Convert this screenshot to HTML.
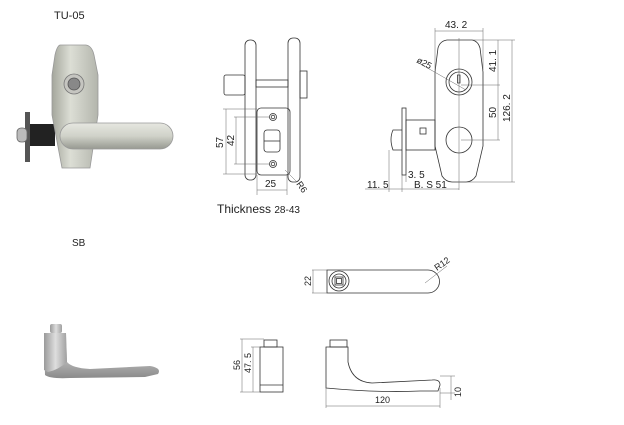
<!DOCTYPE html>
<html><head><meta charset="utf-8"><style>
html,body{margin:0;padding:0;background:#fff;}
svg{display:block;}
text{font-family:"Liberation Sans",sans-serif;fill:#222;}
</style></head><body>
<svg width="624" height="425" viewBox="0 0 624 425" xmlns="http://www.w3.org/2000/svg">
<defs>
<linearGradient id="pl" x1="0" x2="1"><stop offset="0" stop-color="#a4a69c"/><stop offset=".4" stop-color="#dcded5"/><stop offset="1" stop-color="#b3b5ac"/></linearGradient>
<linearGradient id="hd" x1="0" y1="0" x2="0" y2="1"><stop offset="0" stop-color="#e6e7e0"/><stop offset=".5" stop-color="#d0d2c9"/><stop offset="1" stop-color="#979991"/></linearGradient>
<linearGradient id="sb" x1="0" y1="0" x2="0" y2="1"><stop offset="0" stop-color="#dcdcdc"/><stop offset=".6" stop-color="#b5b5b5"/><stop offset="1" stop-color="#8a8a8a"/></linearGradient>
<linearGradient id="sbv" x1="0" x2="1"><stop offset="0" stop-color="#9a9a9a"/><stop offset=".5" stop-color="#dedede"/><stop offset="1" stop-color="#a0a0a0"/></linearGradient>
</defs>
<g fill="none" stroke="#333" stroke-width="0.8">
<text x="54" y="19" font-size="11" stroke="none">TU-05</text>
<rect x="25" y="112" width="5" height="50" fill="#555" stroke="none"/>
<rect x="30" y="124" width="25" height="22" fill="#222" stroke="none"/>
<rect x="17" y="128" width="10" height="14" rx="4" fill="#bbb" stroke="#666"/>
<path d="M60 45 L86 45 Q92 46 94 55 L98 75 L98 115 L90 168 L62 168 L52 115 L52 75 L55 55 Q57 46 60 45Z" fill="url(#pl)" stroke="#999"/>
<circle cx="74" cy="84" r="10" fill="#c5c5c0" stroke="#777"/>
<circle cx="74" cy="84" r="6" fill="#888" stroke="#555"/>
<rect x="60" y="123" width="113" height="26" rx="13" fill="url(#hd)" stroke="#999"/>
<rect x="245" y="40" width="11" height="140" rx="5"/>
<rect x="288" y="38" width="12" height="144" rx="5"/>
<rect x="224" y="75" width="21" height="20" rx="2"/>
<rect x="300" y="71" width="7" height="27"/>
<rect x="256" y="80" width="32" height="7"/>
<rect x="257" y="108" width="33" height="67" rx="4"/>
<circle cx="273" cy="117" r="3.5"/><circle cx="273" cy="117" r="1.8"/>
<circle cx="273" cy="164" r="3.5"/><circle cx="273" cy="164" r="1.8"/>
<rect x="264" y="130" width="16" height="22" rx="3"/>
<line x1="264" y1="141" x2="280" y2="141"/>
<g stroke="#666" stroke-width="0.5">
<line x1="223" y1="109" x2="257" y2="109"/><line x1="223" y1="174" x2="257" y2="174"/>
<line x1="226" y1="109" x2="226" y2="174"/>
<line x1="234" y1="117" x2="270" y2="117"/><line x1="234" y1="164" x2="270" y2="164"/>
<line x1="236" y1="117" x2="236" y2="164"/>
<line x1="257" y1="175" x2="257" y2="195"/><line x1="287" y1="175" x2="287" y2="195"/>
<line x1="257" y1="190" x2="287" y2="190"/>
<line x1="285" y1="170" x2="297" y2="182"/>
</g>
<text x="0" y="0" font-size="10" stroke="none" transform="translate(223,148) rotate(-90)">57</text>
<text x="0" y="0" font-size="10" stroke="none" transform="translate(234,146) rotate(-90)">42</text>
<text x="265" y="187" font-size="10" stroke="none">25</text>
<text x="0" y="0" font-size="9" stroke="none" transform="translate(296,184) rotate(55)">R6</text>
<text x="217" y="213" font-size="12" stroke="none">Thickness <tspan font-size="10">28-43</tspan></text>
<path d="M447 40 L472 40 Q478 41 480 48 L483 72 L483 146 L476 176 Q472 182 466 182 L452 182 Q446 182 442 176 L435 146 L435 72 L438 48 Q440 41 447 40Z"/>
<circle cx="459" cy="82" r="13"/><circle cx="459" cy="82" r="10"/>
<rect x="457.5" y="75" width="2.5" height="8"/>
<circle cx="459" cy="140" r="13"/>
<rect x="402" y="108" width="4" height="67"/>
<rect x="406" y="120" width="29" height="30"/>
<rect x="420" y="128" width="6" height="6"/>
<path d="M402 130 L393 130 Q389 139 393 150 L402 150"/>
<g stroke="#666" stroke-width="0.5">
<line x1="459" y1="38" x2="459" y2="190"/>
<line x1="435" y1="28" x2="435" y2="70"/><line x1="483" y1="28" x2="483" y2="70"/>
<line x1="435" y1="31" x2="483" y2="31"/>
<line x1="472" y1="40" x2="515" y2="40"/><line x1="461" y1="85" x2="500" y2="85"/>
<line x1="461" y1="140" x2="500" y2="140"/><line x1="466" y1="182" x2="515" y2="182"/>
<line x1="498" y1="40" x2="498" y2="140"/>
<line x1="512" y1="40" x2="512" y2="182"/>
<line x1="417" y1="62" x2="466" y2="90"/>
<line x1="389" y1="150" x2="389" y2="192"/><line x1="402" y1="175" x2="402" y2="192"/><line x1="406" y1="175" x2="406" y2="182"/>
<line x1="365" y1="189" x2="459" y2="189"/>
</g>
<text x="445" y="28" font-size="10" stroke="none">43. 2</text>
<text x="0" y="0" font-size="10" stroke="none" transform="translate(496,72) rotate(-90)">41. 1</text>
<text x="0" y="0" font-size="10" stroke="none" transform="translate(496,118) rotate(-90)">50</text>
<text x="0" y="0" font-size="10" stroke="none" transform="translate(510,122) rotate(-90)">126. 2</text>
<text x="0" y="0" font-size="9" stroke="none" transform="translate(416,62) rotate(28)">ø25</text>
<text x="408" y="178" font-size="10" stroke="none">3. 5</text>
<text x="367" y="188" font-size="10" stroke="none">11. 5</text>
<text x="414" y="188" font-size="10" stroke="none">B. S  51</text>
<text x="72" y="246" font-size="10" stroke="none">SB</text>
<rect x="50" y="324" width="12" height="9" rx="2" fill="url(#sbv)" stroke="none"/>
<path d="M44 333 L66 333 L67 362 Q72 368 90 369 L150 366 Q162 368 158 374 L145 377 L70 378 Q50 379 45 375 Z" fill="url(#sb)" stroke="none"/>
<path d="M44 333 L66 333 L67 362 Q58 370 48 372 L44 370Z" fill="url(#sbv)" stroke="none"/>
<path d="M327 270 L428 270 A11.5 11.5 0 0 1 428 293 L327 293 Z"/>
<circle cx="339" cy="281" r="10"/><circle cx="339" cy="281" r="7"/>
<rect x="335" y="277" width="8" height="8"/><rect x="336.5" y="278.5" width="5" height="5"/>
<g stroke="#666" stroke-width="0.5">
<line x1="312" y1="270" x2="327" y2="270"/><line x1="312" y1="293" x2="327" y2="293"/>
<line x1="313" y1="270" x2="313" y2="293"/>
<line x1="425" y1="283" x2="447" y2="266"/>
</g>
<text x="0" y="0" font-size="9" stroke="none" transform="translate(311,286) rotate(-90)">22</text>
<text x="0" y="0" font-size="9" stroke="none" transform="translate(437,271) rotate(-35)">R12</text>
<rect x="264" y="340" width="13" height="7"/>
<rect x="260" y="347" width="23" height="45"/>
<line x1="260" y1="385" x2="283" y2="385"/>
<rect x="330" y="340" width="17" height="7"/>
<path d="M326 347 L348 347 L348 362 Q352 382 372 383 L432 380 Q440 379 440 385 L438 391 L420 391 Q380 393 326 388 Z"/>
<g stroke="#666" stroke-width="0.5">
<line x1="240" y1="339" x2="264" y2="339"/><line x1="240" y1="392" x2="260" y2="392"/>
<line x1="242" y1="339" x2="242" y2="392"/>
<line x1="251" y1="347" x2="260" y2="347"/><line x1="253" y1="347" x2="253" y2="392"/>
<line x1="326" y1="388" x2="326" y2="408"/><line x1="440" y1="388" x2="440" y2="408"/>
<line x1="326" y1="406" x2="440" y2="406"/>
<line x1="440" y1="376" x2="455" y2="376"/><line x1="440" y1="393" x2="455" y2="393"/>
<line x1="451" y1="376" x2="451" y2="400"/>
</g>
<text x="0" y="0" font-size="9" stroke="none" transform="translate(240,370) rotate(-90)">56</text>
<text x="0" y="0" font-size="9" stroke="none" transform="translate(251,373) rotate(-90)">47. 5</text>
<text x="375" y="403" font-size="9" stroke="none">120</text>
<text x="0" y="0" font-size="9" stroke="none" transform="translate(461,397) rotate(-90)">10</text>
</g>
</svg>
</body></html>
